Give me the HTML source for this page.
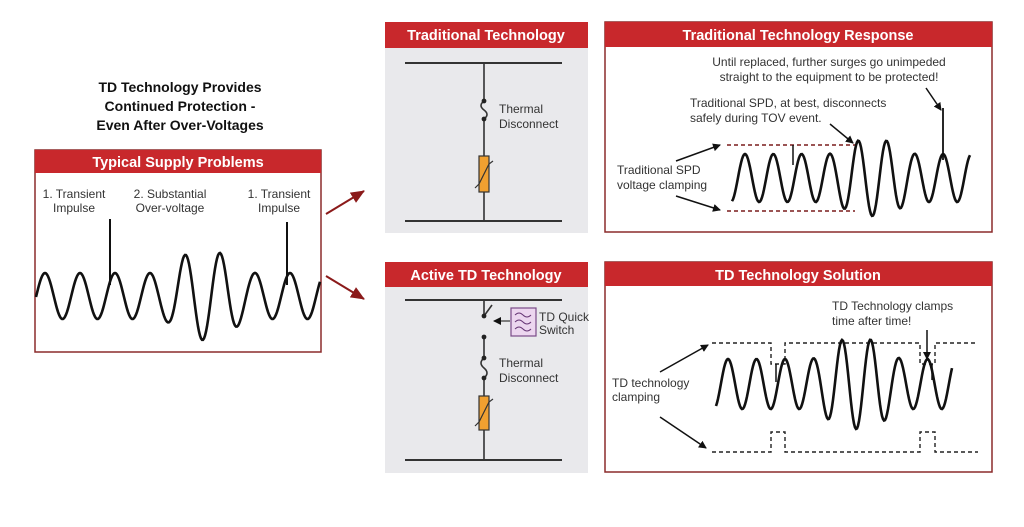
<!DOCTYPE html>
<html><head><meta charset="utf-8"><style>
body{margin:0;background:#fff;width:1024px;height:527px;overflow:hidden}
svg{display:block}
text{font-family:"Liberation Sans",sans-serif}
.h{fill:#fff;font-weight:bold;font-size:14.5px;text-anchor:middle}
.s{fill:#333;font-size:12px}
.w{fill:none;stroke:#111;stroke-width:2.6}
.d{fill:none;stroke:#222;stroke-width:1.4;stroke-dasharray:4 3}
.dr{fill:none;stroke:#7a1c1c;stroke-width:1.6;stroke-dasharray:4 3}
</style></head><body>
<svg width="1024" height="527" viewBox="0 0 1024 527">
<defs>
<marker id="ar" markerWidth="8" markerHeight="8" refX="7" refY="4" orient="auto" markerUnits="userSpaceOnUse"><path d="M0,0 L8,4 L0,8z" fill="#111"/></marker>
<marker id="rr" markerWidth="14" markerHeight="12" refX="13" refY="6" orient="auto" markerUnits="userSpaceOnUse"><path d="M0,0 L14,6 L0,12z" fill="#8b1a1a"/></marker>
</defs>
<text x="180" y="92" text-anchor="middle" font-weight="bold" font-size="14" fill="#111">TD Technology Provides</text>
<text x="180" y="111" text-anchor="middle" font-weight="bold" font-size="14" fill="#111">Continued Protection -</text>
<text x="180" y="130" text-anchor="middle" font-weight="bold" font-size="14" fill="#111">Even After Over-Voltages</text>

<!-- Typical supply -->
<rect x="35" y="150" width="286" height="202" fill="#fff" stroke="#8b2b2b" stroke-width="1.5"/>
<rect x="35" y="150" width="286" height="23" fill="#c8282c"/>
<text class="h" x="178" y="167">Typical Supply Problems</text>
<text class="s" x="74" y="198" text-anchor="middle">1. Transient</text>
<text class="s" x="74" y="212" text-anchor="middle">Impulse</text>
<text class="s" x="170" y="198" text-anchor="middle">2. Substantial</text>
<text class="s" x="170" y="212" text-anchor="middle">Over-voltage</text>
<text class="s" x="279" y="198" text-anchor="middle">1. Transient</text>
<text class="s" x="279" y="212" text-anchor="middle">Impulse</text>
<path id="w1" class="w"/>
<line x1="110" y1="219" x2="110" y2="285" stroke="#111" stroke-width="2"/>
<line x1="287" y1="222" x2="287" y2="285" stroke="#111" stroke-width="2"/>

<line x1="326" y1="214" x2="364" y2="191" stroke="#8b1a1a" stroke-width="2" marker-end="url(#rr)"/>
<line x1="326" y1="276" x2="364" y2="299" stroke="#8b1a1a" stroke-width="2" marker-end="url(#rr)"/>

<!-- Traditional Technology -->
<rect x="385" y="22" width="203" height="211" fill="#e9e9ec"/>
<rect x="385" y="22" width="203" height="26" fill="#c8282c"/>
<text class="h" x="486" y="40">Traditional Technology</text>
<line x1="405" y1="63" x2="562" y2="63" stroke="#333" stroke-width="2"/>
<line x1="405" y1="221" x2="562" y2="221" stroke="#333" stroke-width="2"/>
<path d="M484,63 V101 Q478,105.5 484,110 Q490,114.5 484,119 V156 M484,192 V221" stroke="#333" stroke-width="1.6" fill="none"/>
<circle cx="484" cy="101" r="2.4" fill="#222"/><circle cx="484" cy="119" r="2.4" fill="#222"/>
<rect x="479" y="156" width="10" height="36" fill="#f0a030" stroke="#333" stroke-width="1.2"/>
<path d="M475,188 l4,-4 l10,-20 l4,-3" stroke="#333" stroke-width="1.2" fill="none"/>
<text class="s" x="499" y="113">Thermal</text>
<text class="s" x="499" y="128">Disconnect</text>

<!-- Traditional Response -->
<rect x="605" y="22" width="387" height="210" fill="#fff" stroke="#8b2b2b" stroke-width="1.5"/>
<rect x="605" y="22" width="387" height="25" fill="#c8282c"/>
<text class="h" x="798" y="40">Traditional Technology Response</text>
<text class="s" x="829" y="66" text-anchor="middle">Until replaced, further surges go unimpeded</text>
<text class="s" x="829" y="81" text-anchor="middle">straight to the equipment to be protected!</text>
<text class="s" x="690" y="107">Traditional SPD, at best, disconnects</text>
<text class="s" x="690" y="122">safely during TOV event.</text>
<text class="s" x="617" y="174">Traditional SPD</text>
<text class="s" x="617" y="189">voltage clamping</text>
<line x1="926" y1="88" x2="941" y2="110" stroke="#111" stroke-width="1.5" marker-end="url(#ar)"/>
<line x1="830" y1="124" x2="853" y2="143" stroke="#111" stroke-width="1.5" marker-end="url(#ar)"/>
<line x1="676" y1="161" x2="720" y2="145" stroke="#111" stroke-width="1.5" marker-end="url(#ar)"/>
<line x1="676" y1="196" x2="720" y2="210" stroke="#111" stroke-width="1.5" marker-end="url(#ar)"/>
<line class="dr" x1="727" y1="145" x2="855" y2="145"/>
<line class="dr" x1="727" y1="211" x2="855" y2="211"/>
<path id="w2" class="w"/>
<line x1="793" y1="145" x2="793" y2="165" stroke="#111" stroke-width="1.5"/>
<line x1="943" y1="108" x2="943" y2="160" stroke="#111" stroke-width="1.8"/>

<!-- Active TD -->
<rect x="385" y="262" width="203" height="211" fill="#e9e9ec"/>
<rect x="385" y="262" width="203" height="25" fill="#c8282c"/>
<text class="h" x="486" y="280">Active TD Technology</text>
<line x1="405" y1="300" x2="562" y2="300" stroke="#333" stroke-width="2"/>
<line x1="405" y1="460" x2="562" y2="460" stroke="#333" stroke-width="2"/>
<path d="M484,300 V316 M484,316 L492,305 M484,337 V358 Q478,363 484,368 Q490,373 484,378 V396 M484,430 V460" stroke="#333" stroke-width="1.6" fill="none"/>
<circle cx="484" cy="316" r="2.4" fill="#222"/><circle cx="484" cy="337" r="2.4" fill="#222"/>
<circle cx="484" cy="358" r="2.4" fill="#222"/><circle cx="484" cy="378" r="2.4" fill="#222"/>
<line x1="510" y1="321" x2="494" y2="321" stroke="#333" stroke-width="1.2" marker-end="url(#ar)"/>
<rect x="511" y="308" width="25" height="28" fill="#ecd6ef" stroke="#7a4a88" stroke-width="1.2"/>
<path d="M515,315 q4,-4 8,0 t8,0 M515,322 q4,-4 8,0 t8,0 M515,329 q4,-4 8,0 t8,0" stroke="#6a3a78" fill="none" stroke-width="1"/>
<text class="s" x="539" y="321">TD Quick</text>
<text class="s" x="539" y="334">Switch</text>
<rect x="479" y="396" width="10" height="34" fill="#f0a030" stroke="#333" stroke-width="1.2"/>
<path d="M475,426 l4,-4 l10,-20 l4,-3" stroke="#333" stroke-width="1.2" fill="none"/>
<text class="s" x="499" y="367">Thermal</text>
<text class="s" x="499" y="382">Disconnect</text>

<!-- TD Solution -->
<rect x="605" y="262" width="387" height="210" fill="#fff" stroke="#8b2b2b" stroke-width="1.5"/>
<rect x="605" y="262" width="387" height="24" fill="#c8282c"/>
<text class="h" x="798" y="280">TD Technology Solution</text>
<text class="s" x="832" y="310">TD Technology clamps</text>
<text class="s" x="832" y="325">time after time!</text>
<text class="s" x="612" y="387">TD technology</text>
<text class="s" x="612" y="401">clamping</text>
<line x1="927" y1="330" x2="927" y2="359" stroke="#111" stroke-width="1.5" marker-end="url(#ar)"/>
<line x1="660" y1="372" x2="708" y2="345" stroke="#111" stroke-width="1.5" marker-end="url(#ar)"/>
<line x1="660" y1="417" x2="706" y2="448" stroke="#111" stroke-width="1.5" marker-end="url(#ar)"/>
<path class="d" d="M712,343 H771 V364 H785 V343 H920 V364 H935 V343 H978"/>
<path class="d" d="M712,452 H771 V432 H785 V452 H920 V432 H935 V452 H978"/>
<path id="w3" class="w"/>
<line x1="776" y1="364" x2="776" y2="382" stroke="#111" stroke-width="1.5"/>
<line x1="932" y1="364" x2="932" y2="380" stroke="#111" stroke-width="1.5"/>
</svg>
<script>
function wave(id,x0,x1,p,pk,base,a,big,c,w){
 var d="";
 for(var x=x0;x<=x1;x+=1){
  var e=Math.exp(-Math.pow((x-c)/w,4));
  var A=a+big*e;
  var y=base-A*Math.cos(2*Math.PI*(x-pk)/p);
  d+=(x==x0?"M":"L")+x+","+y.toFixed(1);
 }
 document.getElementById(id).setAttribute("d",d);
}
wave("w1",36,320,35,45,296,23,21,205,32);
wave("w2",732,970,28.3,745,178,24,14,872,30);
wave("w3",716,952,28.5,728,384,25,20,857,32);
</script>
</body></html>
